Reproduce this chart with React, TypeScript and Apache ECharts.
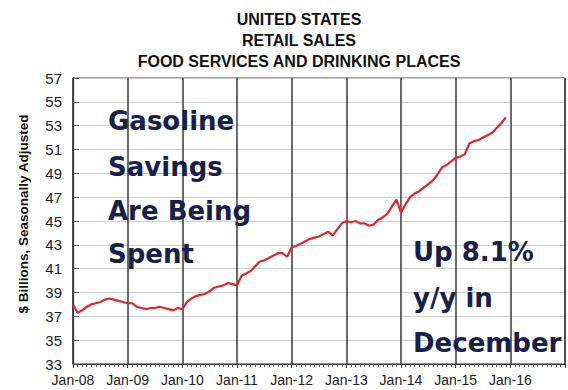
import React, { useEffect, useRef } from "react";
import * as echarts from "echarts";

const titleLines = ["UNITED STATES", "RETAIL SALES", "FOOD SERVICES AND DRINKING PLACES"];
const yAxisTitle = "$ Billions, Seasonally Adjusted";
const xTickLabels = ["Jan-08", "Jan-09", "Jan-10", "Jan-11", "Jan-12", "Jan-13", "Jan-14", "Jan-15", "Jan-16"];

// Monthly values, $ billions (Jan of each year through Dec)
const v2008 = [38.0, 37.3, 37.5, 37.8, 38.0, 38.1, 38.2, 38.4, 38.5, 38.4, 38.3, 38.2];
const v2009 = [38.1, 38.1, 37.8, 37.7, 37.6, 37.7, 37.7, 37.8, 37.7, 37.6, 37.5, 37.7];
const v2010 = [37.6, 38.2, 38.5, 38.7, 38.8, 38.9, 39.1, 39.4, 39.5, 39.6, 39.8, 39.7];
const v2011 = [39.6, 40.4, 40.6, 40.8, 41.2, 41.6, 41.7, 41.9, 42.1, 42.3, 42.3, 42.0];
const v2012 = [42.8, 42.9, 43.1, 43.3, 43.5, 43.6, 43.7, 43.9, 44.1, 43.8, 44.3, 44.8];
const v2013 = [45.0, 44.9, 45.0, 44.8, 44.8, 44.6, 44.7, 45.1, 45.3, 45.6, 46.2, 46.8];
const v2014 = [45.7, 46.4, 47.0, 47.3, 47.5, 47.8, 48.1, 48.4, 48.9, 49.5, 49.7, 50.0];
const v2015 = [50.3, 50.4, 50.6, 51.5, 51.7, 51.8, 52.0, 52.2, 52.4, 52.8, 53.2, 53.7];

const leftNote = ["Gasoline", "Savings", "Are Being", "Spent"];
const rightNote = ["Up 8.1%", "y/y in", "December"];

const allValues = [...v2008, ...v2009, ...v2010, ...v2011, ...v2012, ...v2013, ...v2014, ...v2015];

export default function App() {
  const ref = useRef<HTMLDivElement>(null);
  useEffect(() => {
    if (!ref.current) return;
    const chart = echarts.init(ref.current, null, { renderer: "svg" });
    const noteFont = "DejaVu Sans";
    const noteColor = "#15214b";
    const graphics: any[] = [];
    const titleY = [19, 40, 61];
    titleLines.forEach((t, i) => {
      graphics.push({
        type: "text",
        x: 299,
        y: titleY[i],
        z: 100,
        style: {
          text: t,
          font: "bold 16px 'Liberation Sans', Arial, sans-serif",
          fill: "#111",
          align: "center",
          verticalAlign: "middle",
        },
      });
    });
    graphics.push({
      type: "text",
      x: 23,
      y: 214,
      z: 100,
      rotation: Math.PI / 2,
      style: {
        text: yAxisTitle,
        font: "bold 13.5px 'Liberation Sans', Arial, sans-serif",
        fill: "#111",
        align: "center",
        verticalAlign: "middle",
      },
    });
    const leftY = [121, 167, 211, 254];
    leftNote.forEach((t, i) => {
      graphics.push({
        type: "text",
        x: 108,
        y: leftY[i],
        z: 100,
        style: {
          text: t,
          font: `bold 26px '${noteFont}', sans-serif`,
          fill: noteColor,
          align: "left",
          verticalAlign: "middle",
        },
      });
    });
    const rightY = [252, 298, 343];
    rightNote.forEach((t, i) => {
      graphics.push({
        type: "text",
        x: 413,
        y: rightY[i],
        z: 100,
        style: {
          text: t,
          font: `bold 26px '${noteFont}', sans-serif`,
          fill: noteColor,
          align: "left",
          verticalAlign: "middle",
        },
      });
    });

    chart.setOption({
      animation: false,
      backgroundColor: "#ffffff",
      grid: {
        left: 73,
        right: 1,
        top: 78,
        bottom: 26,
        show: true,
        borderColor: "#333",
        borderWidth: 1,
      },
      xAxis: {
        type: "value",
        min: 0,
        max: 108,
        interval: 12,
        axisLine: { show: true, lineStyle: { color: "#333", width: 1.2 } },
        axisTick: { show: true, length: 4, inside: false, lineStyle: { color: "#333" } },
        minorTick: { show: true, splitNumber: 12, length: 3, lineStyle: { color: "#555" } },
        splitLine: { show: true, lineStyle: { color: "#3a3a3a", width: 1.5 } },
        axisLabel: {
          color: "#222",
          fontSize: 14,
          fontFamily: "'Liberation Sans', Arial, sans-serif",
          margin: 9,
          formatter: (v: number) => xTickLabels[Math.round(v / 12)] ?? "",
        },
      },
      yAxis: {
        type: "value",
        min: 33,
        max: 57,
        interval: 2,
        axisLine: { show: true, lineStyle: { color: "#333", width: 1.2 } },
        axisTick: { show: true, inside: true, length: 6, lineStyle: { color: "#555" } },
        splitLine: { show: true, lineStyle: { color: "#cfcfcf", width: 1.2 } },
        axisLabel: {
          color: "#222",
          fontSize: 15,
          fontFamily: "'Liberation Sans', Arial, sans-serif",
          margin: 11,
        },
      },
      series: [
        {
          type: "line",
          data: allValues.map((v, i) => [i, v]),
          showSymbol: false,
          lineStyle: { color: "#e3262d", width: 2.2 },
          itemStyle: { color: "#e3262d" },
        },
      ],
      graphic: graphics,
    });
    return () => chart.dispose();
  }, []);
  return (
    <div
      ref={ref}
      style={{ position: "fixed", left: 0, top: 0, width: 568, height: 390, background: "#fff" }}
    />
  );
}
